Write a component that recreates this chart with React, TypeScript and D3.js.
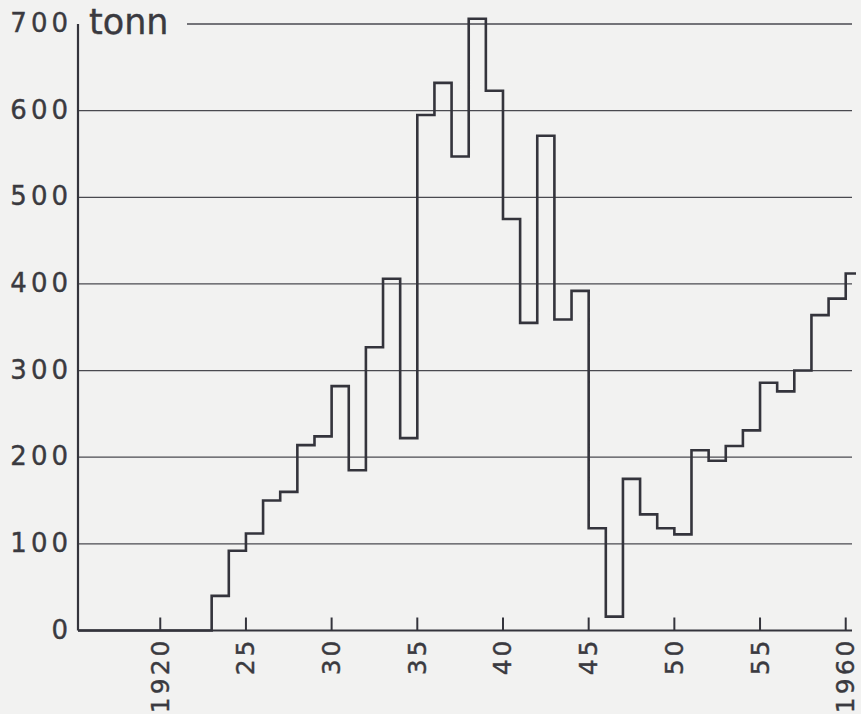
import { useEffect, useRef } from "react";
import * as d3 from "d3";

// annual catch, tonn
const years = [
  1923, 1924, 1925, 1926, 1927, 1928, 1929, 1930, 1931, 1932, 1933, 1934, 1935,
  1936, 1937, 1938, 1939, 1940, 1941, 1942, 1943, 1944, 1945, 1946, 1947, 1948,
  1949, 1950, 1951, 1952, 1953, 1954, 1955, 1956, 1957, 1958, 1959, 1960,
];
const values = [
  40, 92, 112, 150, 160, 214, 224, 282, 185, 327, 406, 222, 595, 632, 547, 706,
  623, 475, 355, 571, 359, 392, 118, 16, 175, 134, 118, 111, 208, 196, 213, 231,
  286, 276, 300, 364, 383, 412,
];
const xTicks = [1920, 1925, 1930, 1935, 1940, 1945, 1950, 1955, 1960];
const xTickLabels = ["1920", "25", "30", "35", "40", "45", "50", "55", "1960"];
const yTicks = [0, 100, 200, 300, 400, 500, 600, 700];
const unitLabel = "tonn";

interface Point {
  year: number;
  value: number;
}

const WIDTH = 861;
const HEIGHT = 714;
const INK = "#34343c";
const TEXT = "#3a3a40";
const FONT = "'DejaVu Sans', sans-serif";

const CatchChart = () => {
  const svgRef = useRef<SVGSVGElement | null>(null);

  useEffect(() => {
    const svg = d3.select(svgRef.current);
    svg.selectAll("*").remove();

    const xDomain: [number, number] = [1915.2, 1960.6];
    const x = d3.scaleLinear().domain(xDomain).range([78, 856]);
    const y = d3.scaleLinear().domain([0, 700]).range([630.5, 24]);
    const gridEnd = x.range()[1] - 4;

    svg
      .append("rect")
      .attr("width", WIDTH)
      .attr("height", HEIGHT)
      .attr("fill", "#f2f2f1");

    // horizontal grid
    const grid = svg.append("g");
    yTicks
      .filter((t) => t > 0)
      .forEach((t) => {
        grid
          .append("line")
          .attr("x1", t === 700 ? 187 : x(xDomain[0]))
          .attr("x2", gridEnd)
          .attr("y1", y(t))
          .attr("y2", y(t))
          .attr("stroke", "#4a4a50")
          .attr("stroke-width", 1.3);
      });

    // axes
    svg
      .append("line")
      .attr("x1", x(xDomain[0]))
      .attr("x2", x(xDomain[0]))
      .attr("y1", y(700))
      .attr("y2", y(0))
      .attr("stroke", INK)
      .attr("stroke-width", 2.2);
    svg
      .append("line")
      .attr("x1", x(xDomain[0]))
      .attr("x2", gridEnd)
      .attr("y1", y(0))
      .attr("y2", y(0))
      .attr("stroke", INK)
      .attr("stroke-width", 2.2);

    // x ticks point up into the plot
    xTicks.forEach((t, i) => {
      svg
        .append("line")
        .attr("x1", x(t))
        .attr("x2", x(t))
        .attr("y1", y(0))
        .attr("y2", y(0) - 13)
        .attr("stroke", INK)
        .attr("stroke-width", 2);
      svg
        .append("text")
        .attr("transform", `translate(${x(t)},${y(0) + 7}) rotate(-90)`)
        .attr("text-anchor", "end")
        .attr("dominant-baseline", "central")
        .attr("font-family", FONT)
        .attr("font-size", 25)
        .attr("letter-spacing", 3)
        .attr("fill", TEXT)
        .attr("stroke", TEXT)
        .attr("stroke-width", 0.4)
        .text(xTickLabels[i]);
    });

    yTicks.forEach((t) => {
      svg
        .append("text")
        .attr("x", 72)
        .attr("y", y(t) - 1)
        .attr("text-anchor", "end")
        .attr("dominant-baseline", "central")
        .attr("font-family", FONT)
        .attr("font-size", 26)
        .attr("letter-spacing", 4)
        .attr("fill", TEXT)
        .attr("stroke", TEXT)
        .attr("stroke-width", 0.4)
        .text(String(t));
    });

    svg
      .append("text")
      .attr("x", 89)
      .attr("y", y(700) + 10)
      .attr("font-family", FONT)
      .attr("font-size", 35)
      .attr("fill", TEXT)
      .attr("stroke", TEXT)
      .attr("stroke-width", 0.4)
      .text(unitLabel);

    const points: Point[] = [{ year: xDomain[0], value: 0 }];
    years.forEach((yr, i) => points.push({ year: yr, value: values[i] }));
    points.push({ year: xDomain[1], value: values[values.length - 1] });

    const line = d3
      .line<Point>()
      .x((d) => x(d.year))
      .y((d) => y(d.value))
      .curve(d3.curveStepAfter);

    svg
      .append("path")
      .datum(points)
      .attr("fill", "none")
      .attr("stroke", INK)
      .attr("stroke-width", 2.6)
      .attr("stroke-linejoin", "miter")
      .attr("d", line);
  }, []);

  return (
    <svg
      ref={svgRef}
      width={WIDTH}
      height={HEIGHT}
      style={{ display: "block", position: "absolute", left: 0, top: 0 }}
    />
  );
};

export default function App() {
  return <CatchChart />;
}
